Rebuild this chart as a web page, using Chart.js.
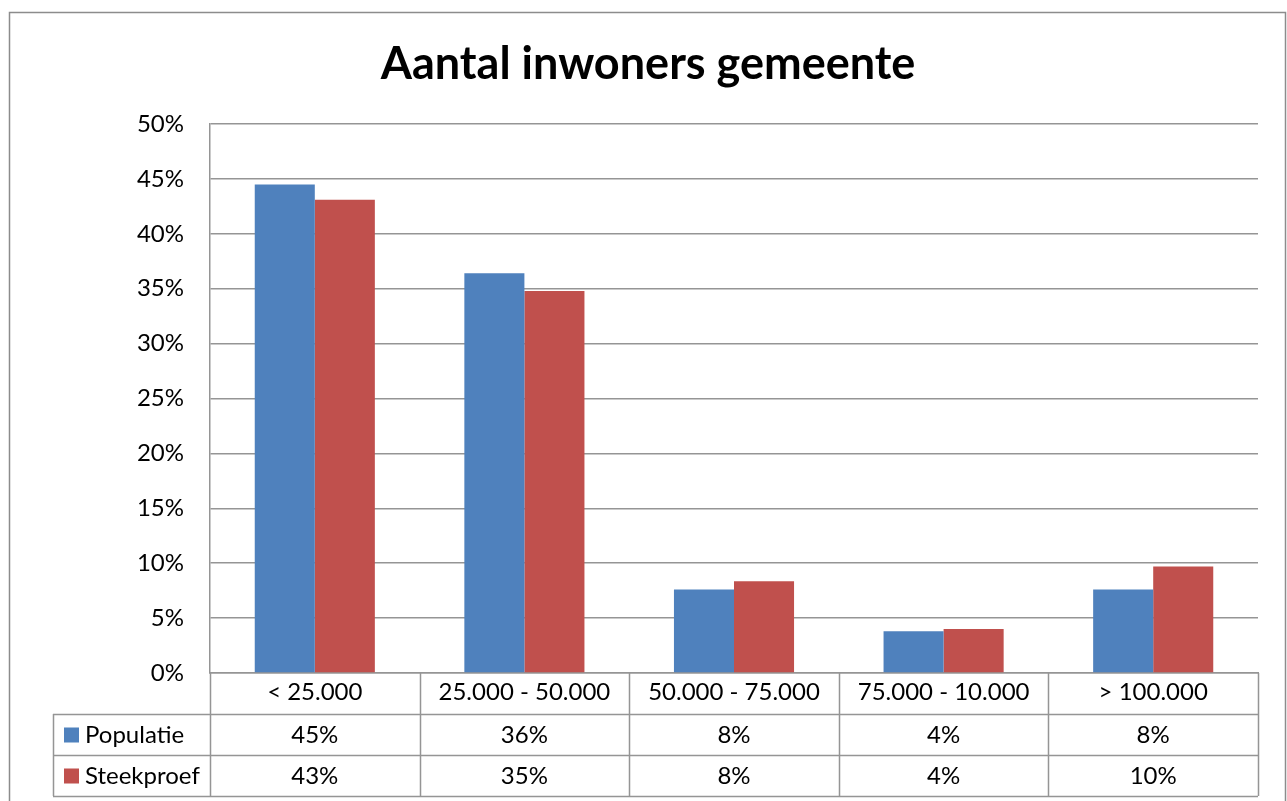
<!DOCTYPE html>
<html lang="nl">
<head>
  <meta charset="UTF-8" />
  <title>Aantal inwoners gemeente</title>
  <style>
    body {
      margin: 0;
      padding: 0;
      background: #fff;
    }
    #wrap {
      width: 1287px;
      height: 801px;
    }
  </style>
</head>
<body>
  <div id="wrap"><canvas id="chart"></canvas></div>

  <script src="https://cdn.jsdelivr.net/npm/chart.js"></script>

  <script>
    // gegevens
    const categories = ['< 25.000', '25.000 - 50.000', '50.000 - 75.000', '75.000 - 10.000', '> 100.000'];
    const populatie = [44.5, 36.4, 7.6, 3.8, 7.6];
    const steekproef = [43.1, 34.8, 8.35, 4.0, 9.7];
    const yTicks = [0, 5, 10, 15, 20, 25, 30, 35, 40, 45, 50];

    const FONT = 'Lato, "Open Sans", sans-serif';
    const LINE = '#959595';
    const ROW_H = 41;

    // tabel onder de grafiek (legenda + waarden)
    const dataTable = {
      id: 'dataTable',
      beforeDraw(chart) {
        const ctx = chart.ctx;
        ctx.save();
        ctx.strokeStyle = '#8c8c8c';
        ctx.lineWidth = 1.5;
        ctx.strokeRect(9.5, 12.5, 1276, 800);
        ctx.restore();
      },
      afterDraw(chart) {
        const ctx = chart.ctx;
        const x = chart.scales.x;
        const area = chart.chartArea;
        const n = categories.length;
        const cw = (area.right - area.left) / n;
        const top = area.bottom;
        const legLeft = 53;

        ctx.save();
        ctx.strokeStyle = LINE;
        ctx.lineWidth = 1.5;
        ctx.beginPath();
        for (let i = 0; i <= n; i++) {
          const bx = Math.round(area.left + i * cw) + 0.5;
          ctx.moveTo(bx, top);
          ctx.lineTo(bx, top + ROW_H * 3);
        }
        for (let r = 1; r <= 3; r++) {
          const y = top + ROW_H * r + 0.5;
          ctx.moveTo(legLeft, y);
          ctx.lineTo(area.right, y);
        }
        ctx.moveTo(legLeft + 0.5, top + ROW_H);
        ctx.lineTo(legLeft + 0.5, top + ROW_H * 3);
        ctx.stroke();

        ctx.font = '24px ' + FONT;
        ctx.textBaseline = 'middle';
        chart.data.datasets.forEach((ds, r) => {
          const cy = top + ROW_H * (r + 1) + ROW_H / 2 + 1;
          ctx.fillStyle = ds.backgroundColor;
          ctx.fillRect(64, cy - 8, 15, 15);
          ctx.fillStyle = '#000';
          ctx.textAlign = 'left';
          ctx.fillText(ds.label, 85, cy);
          ctx.textAlign = 'center';
          ds.data.forEach((v, i) => {
            ctx.fillText(Math.round(v) + '%', x.getPixelForValue(i), cy);
          });
        });
        ctx.restore();
      }
    };

    new Chart(document.getElementById('chart'), {
      type: 'bar',
      data: {
        labels: categories,
        datasets: [
          { label: 'Populatie', data: populatie, backgroundColor: '#4F81BD' },
          { label: 'Steekproef', data: steekproef, backgroundColor: '#C0504D' }
        ]
      },
      options: {
        responsive: true,
        maintainAspectRatio: false,
        animation: false,
        categoryPercentage: 0.573,
        barPercentage: 1.0,
        layout: { padding: { left: 38, right: 29, top: 0, bottom: 87 } },
        plugins: {
          legend: { display: false },
          tooltip: { enabled: false },
          title: {
            display: true,
            text: 'Aantal inwoners gemeente',
            color: '#000',
            font: { family: FONT, size: 45, weight: 'bold' },
            padding: { top: 37, bottom: 33 }
          }
        },
        scales: {
          y: {
            min: 0,
            max: 50,
            afterBuildTicks(scale) {
              scale.ticks = yTicks.map(v => ({ value: v }));
            },
            afterFit(scale) { scale.width = 172; },
            ticks: {
              color: '#000',
              font: { family: FONT, size: 24 },
              padding: 26,
              callback: v => v + '%'
            },
            grid: { color: LINE, lineWidth: 1.5, drawTicks: false },
            border: { color: LINE, width: 1.5 }
          },
          x: {
            afterFit(scale) { scale.height = ROW_H; },
            ticks: {
              color: '#000',
              font: { family: FONT, size: 24 },
              padding: 5,
              maxRotation: 0,
              autoSkip: false
            },
            grid: { display: true, drawOnChartArea: false, drawTicks: false },
            border: { color: LINE, width: 1.5 }
          }
        }
      },
      plugins: [dataTable]
    });
  </script>
</body>
</html>
